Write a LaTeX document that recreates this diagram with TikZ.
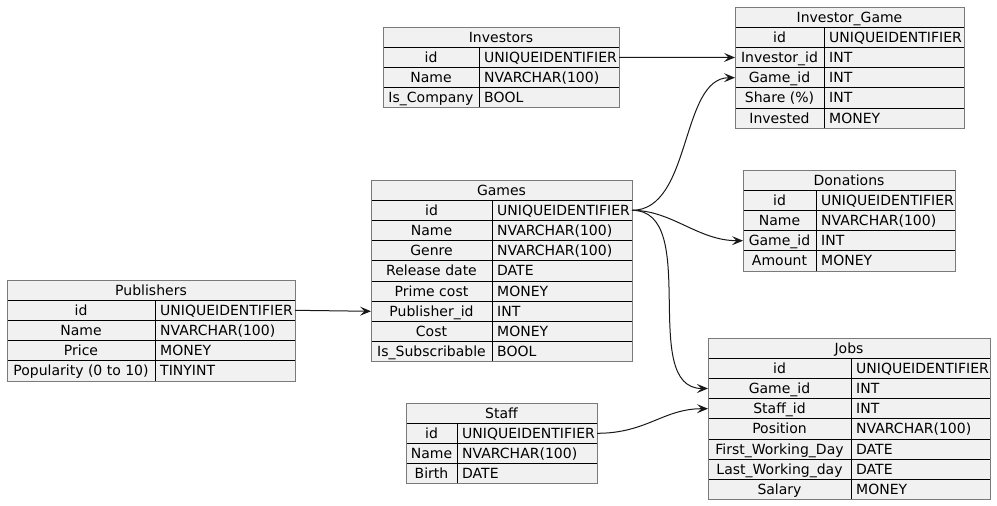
\documentclass[tikz,border=0pt]{standalone}
\usepackage{fontspec}
\setmainfont{DejaVu Sans}
\usetikzlibrary{arrows.meta}

\definecolor{cellfill}{HTML}{F1F1F1}
\definecolor{framegray}{HTML}{7A7A7A}
\definecolor{ink}{HTML}{181818}

% height of one table row
\def\rowh{20.2}

\tikzset{
  rowbox/.style={inner sep=0pt, outer sep=0pt, minimum height=\rowh pt, anchor=north west},
  celltext/.style={inner sep=0pt, font=\fontsize{14}{16}\selectfont, text=black},
  rule/.style={draw=black, line width=1pt},
  border/.style={draw=framegray, line width=1pt},
  link/.style={draw=ink, line width=1pt, -{Stealth[length=11pt,width=9pt,inset=4.5pt]}},
}

% \dbtable{name}{left x}{divider x}{right x}{top y}{title}{key/type,...}
\newcommand{\dbtable}[7]{%
  \foreach \k/\t [count=\i] in {#7} {\xdef\nrows{\i}}%
  \pgfmathsetmacro\tblw{#4-#2}%
  \pgfmathsetmacro\tblbot{#5+(\nrows+1)*\rowh}%
  \fill[cellfill] (#2,#5) rectangle (#4,\tblbot);
  \node[rowbox, minimum width=\tblw pt] (#1) at (#2,#5) {};
  \node[celltext, anchor=base] (#1-title) at ({(#2+#4)/2},{#5+\rowh/2+5}) {#6};
  \foreach \k/\t [count=\i] in {#7} {%
    \pgfmathsetmacro\ytop{#5+\i*\rowh}%
    \node[rowbox, minimum width=\tblw pt] (#1-\i) at (#2,\ytop) {};
    \draw[rule] (#1-\i.north west) -- (#1-\i.north east);
    \node[celltext, anchor=base] (#1-\i-k) at ({(#2+#3)/2},{\ytop+\rowh/2+5}) {\k};
    \node[celltext, anchor=base west] (#1-\i-t) at ({#3+5},{\ytop+\rowh/2+5}) {\t};
  }
  \draw[rule] (#3,{#5+\rowh}) -- (#3,\tblbot);
  \draw[border] (#2,#5) rectangle (#4,\tblbot);
}

\begin{document}
\begin{tikzpicture}[x=1pt, y=-1pt]
\useasboundingbox (0,0) rectangle (997,506);

\dbtable{inv}{383}{479}{619}{27}{Investors}{%
  id/UNIQUEIDENTIFIER, Name/NVARCHAR(100), Is\_Company/BOOL}

\dbtable{ig}{735}{824}{964}{7}{Investor\_Game}{%
  id/UNIQUEIDENTIFIER, Investor\_id/INT, Game\_id/INT, Share (\%)/INT, Invested/MONEY}

\dbtable{don}{743}{816}{955}{170}{Donations}{%
  id/UNIQUEIDENTIFIER, Name/NVARCHAR(100), Game\_id/INT, Amount/MONEY}

\dbtable{games}{371}{492}{632}{180}{Games}{%
  id/UNIQUEIDENTIFIER, Name/NVARCHAR(100), Genre/NVARCHAR(100), Release date/DATE,
  Prime cost/MONEY, Publisher\_id/INT, Cost/MONEY, Is\_Subscribable/BOOL}

\dbtable{pub}{7}{155}{295}{280}{Publishers}{%
  id/UNIQUEIDENTIFIER, Name/NVARCHAR(100), Price/MONEY, Popularity (0 to 10)/TINYINT}

\dbtable{staff}{406}{457}{597}{403}{Staff}{%
  id/UNIQUEIDENTIFIER, Name/NVARCHAR(100), Birth/DATE}

\dbtable{jobs}{708}{851}{990}{338}{Jobs}{%
  id/UNIQUEIDENTIFIER, Game\_id/INT, Staff\_id/INT, Position/NVARCHAR(100),
  First\_Working\_Day/DATE, Last\_Working\_day/DATE, Salary/MONEY}

% foreign keys
\draw[link] (inv-1.east) -- (ig-2.west);
\draw[link] (pub-1.east) -- (games-6.west);
\draw[link] (games-1.east) .. controls +(60,0) and +(-55,0) .. (ig-3.west);
\draw[link] (games-1.east) .. controls +(40,0) and +(-45,0) .. (don-3.west);
\draw[link] (games-1.east) .. controls +(70,0) and +(-70,0) .. (jobs-2.west);
\draw[link] (staff-1.east) .. controls +(50,0) and +(-45,0) .. (jobs-3.west);
\end{tikzpicture}
\end{document}
